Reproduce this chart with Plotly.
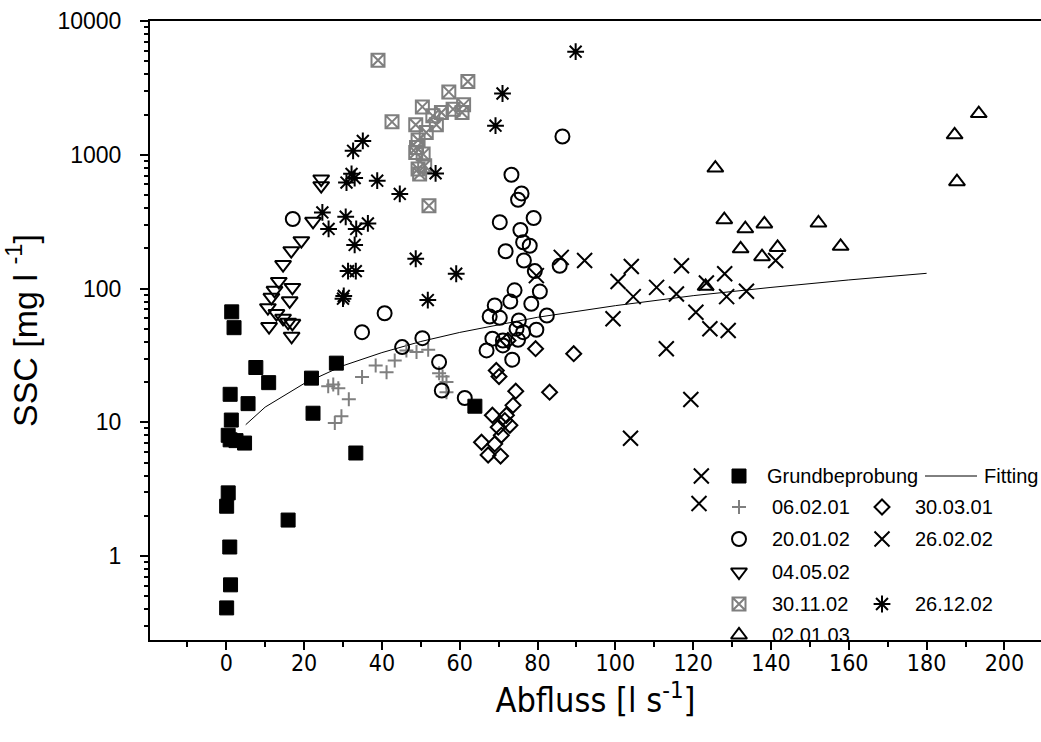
import plotly.graph_objects as go

# ---- measured samples: discharge Abfluss [l/s] vs. suspended sediment SSC [mg/l] ----
grund_x = [1.4, 2.0, 1.0, 1.3, 0.5, 1.0, 2.5, 4.7, 5.6, 7.6, 10.9, 21.9, 28.3, 22.3, 33.3,
           0.5, 0.1, 15.9, 0.9, 1.1, 0.1, 63.9]
grund_y = [67, 51, 16.2, 10.4, 8.0, 7.4, 7.3, 7.0, 13.8, 25.7, 19.8, 21.4, 27.7, 11.7, 5.9,
           2.97, 2.36, 1.86, 1.17, 0.61, 0.41, 13.2]

feb01_x = [26.2, 27.5, 28.8, 31.5, 29.6, 27.9, 34.9, 38.4, 41.2, 43.3, 46.3, 48.9, 51.9,
           54.7, 55.6, 56.6, 56.6]
feb01_y = [18.6, 19.2, 18.0, 14.9, 11.1, 9.9, 21.8, 26.6, 23.7, 29.0, 34.5, 33.5, 34.9,
           23.3, 22.0, 20.0, 16.8]

mar01_x = [72.4, 79.5, 89.3, 69.4, 70.1, 74.4, 83.1, 73.7, 68.4, 72.0, 72.9, 69.9, 70.7,
           65.6, 69.0, 67.3, 70.5, 71.6]
mar01_y = [40.9, 35.5, 32.6, 24.4, 22.0, 17.1, 16.8, 13.4, 11.3, 11.3, 9.5, 9.2, 8.0,
           7.1, 6.9, 5.7, 5.6, 10.3]

jan02_x = [86.4, 73.3, 75.9, 75.0, 70.3, 79.0, 75.6, 76.3, 78.0, 71.8, 76.5, 79.3, 85.7,
           74.1, 80.6, 69.0, 73.0, 78.4, 67.7, 70.3, 75.2, 82.4, 74.6, 76.3, 79.7, 68.4,
           71.1, 75.0, 71.1, 66.9, 73.5, 17.1, 40.7, 34.9, 45.2, 50.4, 54.7, 55.4, 61.3]
jan02_y = [1370, 709, 514, 461, 313, 337, 274, 222, 209, 190, 162, 135, 148,
           97, 95, 74.7, 80, 76.9, 61.8, 60.4, 57.7, 62.9, 50, 47.2, 49.2, 42.2,
           40.9, 41.4, 37.6, 34.5, 29.4, 331, 65.4, 47.2, 36.5, 42.6, 28.2, 17.3, 15.2]

feb02_x = [86.1, 92.1, 79.7, 104.1, 100.7, 104.6, 99.4, 110.6, 115.7, 117.0, 123.4,
           128.1, 128.6, 133.7, 141.2, 120.7, 124.3, 129.0, 113.1, 119.4, 103.9, 122.1, 121.5]
feb02_y = [171, 162, 125, 146, 113, 87, 59.4, 102, 91, 148, 110,
           129, 87, 95.5, 162, 66.6, 50, 48.6, 35.5, 14.8, 7.6, 3.97, 2.47]

may02_x = [24.4, 24.4, 22.3, 19.3, 16.7, 14.6, 13.5, 12.4, 17.0, 16.3, 11.6, 10.7, 12.9,
           14.6, 15.9, 17.0, 11.0, 16.8]
may02_y = [659, 587, 318, 228, 192, 151, 113, 97, 102, 81, 86, 72, 65,
           60, 56, 55, 52, 44]

nov02_x = [39.0, 42.6, 62.1, 57.2, 50.4, 61.0, 58.3, 55.3, 53.1, 60.6, 54.0, 48.7, 51.4,
           49.3, 48.9, 48.7, 50.6, 49.3, 51.0, 49.7, 52.1]
nov02_y = [5090, 1763, 3525, 2951, 2280, 2361, 2193, 2070, 1954, 2070, 1675, 1675, 1468,
           1289, 1135, 1041, 1012, 782, 828, 718, 416]

dec02_x = [89.8, 71.0, 69.2, 35.1, 32.6, 32.2, 33.0, 30.9, 38.8, 44.6, 53.8, 24.7, 26.3,
           30.7, 33.4, 36.4, 33.0, 31.3, 33.3, 30.2, 30.0, 48.7, 51.8, 59.1]
dec02_y = [5900, 2870, 1650, 1270, 1070, 720, 670, 620, 640, 510, 726, 371, 279,
           344, 279, 307, 212, 135, 135, 88, 84, 167, 82, 129]

jan03_x = [193.4, 187.2, 187.8, 125.7, 128.0, 133.4, 138.3, 152.2, 132.2, 141.7, 137.7,
           157.9, 123.2]
jan03_y = [2033, 1410, 629, 796, 327, 280, 304, 309, 198, 203, 173, 207, 104]

# regression curve (Fitting)
fit_x = [5, 10, 20, 30, 40, 50, 60, 80, 100, 120, 140, 160, 180]
fit_y = [9.6, 13.0, 19.5, 26.5, 33.2, 40.2, 47.0, 61.0, 74.5, 88.5, 102, 116, 130]

x_ticks = [0, 20, 40, 60, 80, 100, 120, 140, 160, 180, 200]
y_ticks = [1, 10, 100, 1000, 10000]

ARIAL = "Liberation Sans, Arial, sans-serif"
NARROW = "Liberation Sans Narrow, Arial Narrow, DejaVu Sans Condensed, sans-serif"
GRAY = "#7f7f7f"

series = [
    ("Grundbeprobung", grund_x, grund_y, "square", 14, "black", 1),
    ("06.02.01", feb01_x, feb01_y, "cross-thin-open", 10, GRAY, 2),
    ("30.03.01", mar01_x, mar01_y, "diamond-open", 11.5, "black", 2),
    ("20.01.02", jan02_x, jan02_y, "circle-open", 14, "black", 2),
    ("26.02.02", feb02_x, feb02_y, "x-thin-open", 15, "black", 2),
    ("04.05.02", may02_x, may02_y, "triangle-down-open", 14, "black", 2),
    ("30.11.02", nov02_x, nov02_y, "square-x-open", 13, GRAY, 2),
    ("26.12.02", dec02_x, dec02_y, "asterisk-open", 14, "black", 2),
    ("02.01.03", jan03_x, jan03_y, "triangle-up-open", 14, "black", 2),
]

fig = go.Figure()

fig.add_trace(go.Scatter(x=fit_x, y=fit_y, mode="lines", name="Fitting",
                         line=dict(color="black", width=1), showlegend=False))

for name, xs, ys, sym, size, col, lw in series:
    fig.add_trace(go.Scatter(
        x=xs, y=ys, mode="markers", name=name, showlegend=False, cliponaxis=False,
        marker=dict(symbol=sym, size=size, color=col, line=dict(color=col, width=lw)),
    ))

# ---- hand-placed legend (two columns), drawn on a pixel-mapped overlay axis ----
row_y = [476, 507, 539, 572, 604, 635]
col1_sym, col1_txt = 739, 770
col2_sym, col2_txt = 882, 913
legend_items = [
    (series[0], col1_sym, 765, row_y[0]),
    (series[1], col1_sym, col1_txt, row_y[1]),
    (series[2], col2_sym, col2_txt, row_y[1]),
    (series[3], col1_sym, col1_txt, row_y[2]),
    (series[4], col2_sym, col2_txt, row_y[2]),
    (series[5], col1_sym, col1_txt, row_y[3]),
    (series[6], col1_sym, col1_txt, row_y[4]),
    (series[7], col2_sym, col2_txt, row_y[4]),
    (series[8], col1_sym, col1_txt, row_y[5]),
]

annotations = []
for (name, _, _, sym, size, col, lw), sx, tx, ry in legend_items:
    fig.add_trace(go.Scatter(
        x=[sx], y=[ry], xaxis="x2", yaxis="y2", mode="markers", showlegend=False,
        cliponaxis=False, hoverinfo="skip",
        marker=dict(symbol=sym, size=size, color=col, line=dict(color=col, width=lw)),
    ))
    annotations.append(dict(x=tx, y=ry, xref="x2", yref="y2", text=name, showarrow=False,
                            xanchor="left", yanchor="middle",
                            font=dict(family=ARIAL, size=20, color="black")))

fig.add_trace(go.Scatter(x=[925, 977], y=[row_y[0], row_y[0]], xaxis="x2", yaxis="y2",
                         mode="lines", line=dict(color="black", width=1),
                         showlegend=False, hoverinfo="skip"))
annotations.append(dict(x=982, y=row_y[0], xref="x2", yref="y2", text="Fitting",
                        showarrow=False, xanchor="left", yanchor="middle",
                        font=dict(family=ARIAL, size=20, color="black")))

fig.update_layout(
    width=1041, height=742,
    margin=dict(l=150, r=0, t=21, b=102),
    paper_bgcolor="white", plot_bgcolor="white",
    showlegend=False,
    annotations=annotations,
    xaxis=dict(
        range=[-19.6, 209.4], tickvals=x_ticks, ticktext=[str(v) for v in x_ticks],
        showline=True, linecolor="black", linewidth=2, mirror=True,
        ticks="outside", ticklen=8, tickwidth=2, tickcolor="black",
        minor=dict(ticks="outside", ticklen=5, tickwidth=2, dtick=10, tick0=0,
                   tickcolor="black", showgrid=False),
        showgrid=False, zeroline=False,
        tickfont=dict(family=NARROW, size=23, color="black"),
        ticklabelstandoff=-7,
        title=dict(text="Abfluss [l s<sup>-1</sup>]",
                   font=dict(family=NARROW, size=34, color="black"), standoff=14),
    ),
    yaxis=dict(
        type="log", range=[-0.627, 4.0],
        tickvals=y_ticks, ticktext=[str(v) for v in y_ticks],
        showline=True, linecolor="black", linewidth=2,
        ticks="outside", ticklen=8, tickwidth=2, tickcolor="black",
        minor=dict(ticks="outside", ticklen=4, tickwidth=1.5, dtick="D1",
                   tickcolor="black", showgrid=False),
        showgrid=False, zeroline=False,
        tickfont=dict(family=ARIAL, size=23, color="black"),
        ticklabelstandoff=14,
        title=dict(text="SSC [mg l <sup>-1</sup>]",
                   font=dict(family=ARIAL, size=34, color="black"), standoff=10),
    ),
    xaxis2=dict(overlaying="x", anchor="y2", range=[150, 1041], visible=False,
                fixedrange=True),
    yaxis2=dict(overlaying="y", anchor="x2", range=[640, 21], visible=False,
                fixedrange=True),
)

fig.write_html("out.html")
